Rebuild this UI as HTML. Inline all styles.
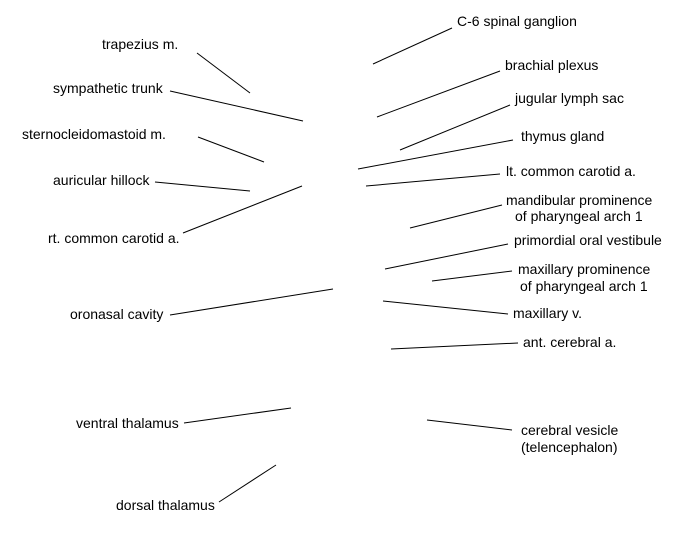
<!DOCTYPE html>
<html><head><meta charset="utf-8"><style>
html,body{margin:0;padding:0;background:#fff;}
svg{display:block;}
text{font-family:"Liberation Sans",Arial,sans-serif;font-size:14px;fill:#000;}
line{stroke:#000;stroke-width:1;}
</style></head><body>
<svg width="675" height="550" viewBox="0 0 675 550" xmlns="http://www.w3.org/2000/svg">
<g>
<line x1="197" y1="53" x2="250" y2="93"/>
<line x1="170" y1="91" x2="303" y2="121"/>
<line x1="198" y1="137" x2="264" y2="162"/>
<line x1="155" y1="182" x2="250" y2="191"/>
<line x1="183" y1="233" x2="302" y2="186"/>
<line x1="170" y1="315" x2="333" y2="289"/>
<line x1="184" y1="423" x2="291" y2="408"/>
<line x1="219" y1="502" x2="276" y2="465"/>
<line x1="452" y1="28" x2="373" y2="64"/>
<line x1="500" y1="71" x2="377" y2="117"/>
<line x1="510" y1="105" x2="400" y2="150"/>
<line x1="513" y1="140" x2="358" y2="169"/>
<line x1="500" y1="174" x2="366" y2="186"/>
<line x1="502" y1="205" x2="410" y2="228"/>
<line x1="508" y1="244" x2="385" y2="269"/>
<line x1="512" y1="271" x2="432" y2="281"/>
<line x1="508" y1="314" x2="383" y2="301"/>
<line x1="518" y1="343" x2="391" y2="349"/>
<line x1="512" y1="430" x2="427" y2="420"/>
</g>
<text x="102" y="49">trapezius m.</text>
<text x="53" y="93">sympathetic trunk</text>
<text x="22" y="139">sternocleidomastoid m.</text>
<text x="53" y="185">auricular hillock</text>
<text x="48" y="243">rt. common carotid a.</text>
<text x="70" y="319">oronasal cavity</text>
<text x="76" y="428">ventral thalamus</text>
<text x="116" y="510">dorsal thalamus</text>
<text x="457" y="26">C-6 spinal ganglion</text>
<text x="505" y="70">brachial plexus</text>
<text x="515" y="103">jugular lymph sac</text>
<text x="521" y="141">thymus gland</text>
<text x="506" y="176">lt. common carotid a.</text>
<text x="506" y="205">mandibular prominence</text>
<text x="515" y="221">of pharyngeal arch 1</text>
<text x="514" y="245">primordial oral vestibule</text>
<text x="518" y="274">maxillary prominence</text>
<text x="520" y="291">of pharyngeal arch 1</text>
<text x="513" y="318">maxillary v.</text>
<text x="523" y="347">ant. cerebral a.</text>
<text x="521" y="435">cerebral vesicle</text>
<text x="521" y="452">(telencephalon)</text>
</svg>
</body></html>
